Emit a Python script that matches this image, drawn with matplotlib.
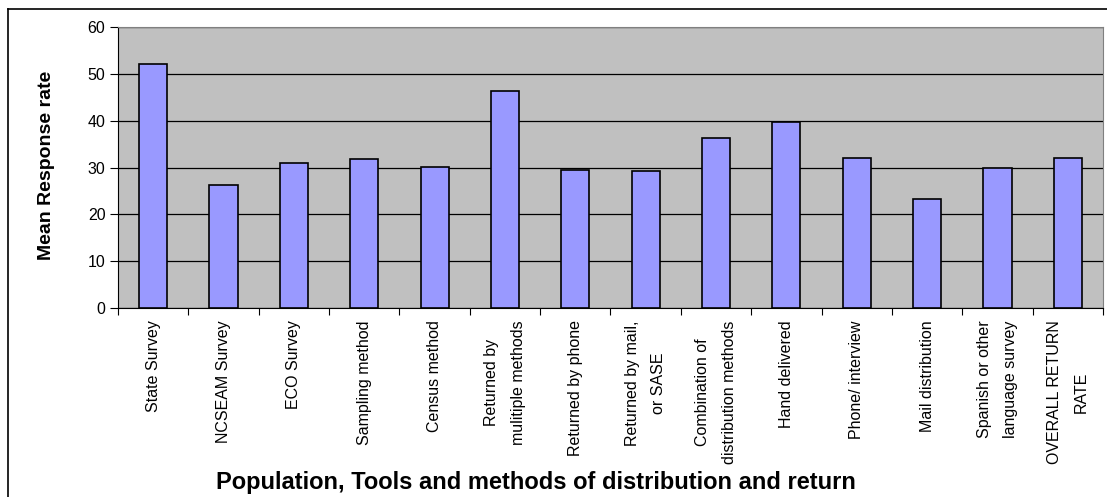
import matplotlib
matplotlib.use("Agg")
import matplotlib.pyplot as plt
from matplotlib.transforms import Bbox
from matplotlib.lines import Line2D

categories = [
    "State Survey", "NCSEAM Survey", "ECO Survey", "Sampling method",
    "Census method", "Returned by\nmulitiple methods", "Returned by phone",
    "Returned by mail,\nor SASE", "Combination of\ndistribution methods",
    "Hand delivered", "Phone/ interview", "Mail distribution",
    "Spanish or other\nlanguage survey", "OVERALL RETURN\nRATE",
]
values = [52.0, 26.3, 30.9, 31.9, 30.2, 46.4, 29.5, 29.2, 36.3, 39.8, 32.0, 23.3, 29.8, 32.0]
yticks = [0, 10, 20, 30, 40, 50, 60]

plt.rcParams['font.family'] = ['Liberation Sans', 'DejaVu Sans']

W, H = 1107, 497
fig = plt.figure(figsize=(W / 100, H / 100), dpi=100)
ax = fig.add_axes([118 / W, 1 - 308 / H, (1103 - 118) / W, (308 - 27) / H])
ax.set_facecolor('#C0C0C0')

x = list(range(len(categories)))
ax.bar(x, values, width=0.4, color='#9999FF', edgecolor='black', linewidth=1.2, zorder=3)

ax.set_xlim(-0.5, len(categories) - 0.5)
ax.set_ylim(0, 60)
ax.set_yticks(yticks)
ax.set_yticklabels([str(v) for v in yticks], fontsize=11.5)
ax.yaxis.grid(True, color='black', linewidth=0.9, zorder=1)
ax.set_axisbelow(True)

# ticks at category boundaries
ax.set_xticks([i + 0.5 for i in range(-1, len(categories))], minor=False)
ax.set_xticklabels([])
ax.set_xticks(x, minor=True)
ax.set_xticklabels(categories, minor=True, rotation=90, fontsize=11.5,
                   ha='center', va='top', linespacing=1.95)
ax.tick_params(axis='x', which='minor', length=0, pad=9)
ax.tick_params(axis='x', which='major', length=5, direction='out', color='black')
ax.tick_params(axis='y', length=6, direction='out', color='black', pad=3)

for s in ['left', 'bottom']:
    ax.spines[s].set_color('black')
for s in ['top', 'right']:
    ax.spines[s].set_color('#808080')

fig.text(536 / W, 1 - 482 / H, "Population, Tools and methods of distribution and return",
         ha='center', va='center', fontsize=17, fontweight='bold')

yl = fig.text(47 / W, 1 - 165 / H, "Mean Response rate", rotation=90,
              ha='center', va='center', fontsize=14, fontweight='bold')
yl.set_clip_box(Bbox.from_extents(0, 0, W, H - 70))
yl.set_clip_on(True)

# outer chart border (left and top)
fig.add_artist(Line2D([7.5 / W, 7.5 / W], [0, 1 - 9 / H], color='black', linewidth=1.2,
                      transform=fig.transFigure))
fig.add_artist(Line2D([7.5 / W, 1], [1 - 9 / H, 1 - 9 / H], color='black', linewidth=1.2,
                      transform=fig.transFigure))

fig.savefig("out.png", dpi=100)
